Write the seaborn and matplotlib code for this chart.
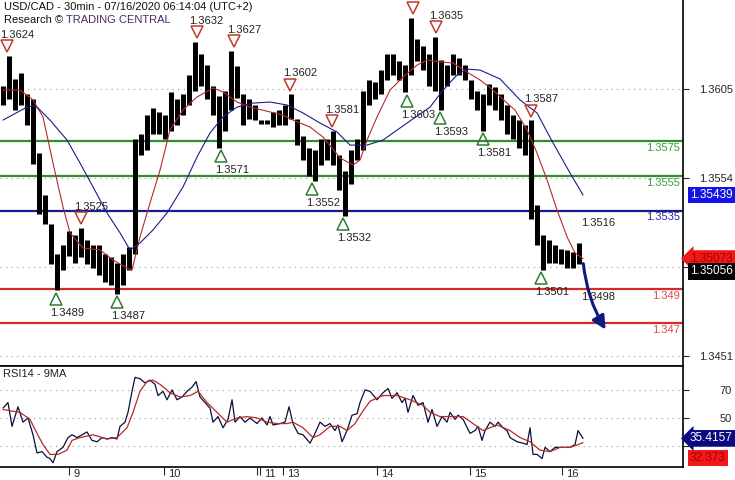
import numpy as np
import matplotlib
matplotlib.use('Agg')
import matplotlib.pyplot as plt
import seaborn as sns
from matplotlib.transforms import offset_copy, ScaledTranslation

# price bars, one every ~1.5 hours (sample index = x position)
highs = [1.3607, 1.3624, 1.3611, 1.3614, 1.3602, 1.3599, 1.3568, 1.3544, 1.3527, 1.3510,
         1.3515, 1.3523, 1.3521, 1.3525, 1.3518, 1.3515, 1.3515, 1.3510, 1.3508, 1.3505,
         1.3510, 1.3514, 1.3576, 1.3579, 1.3590, 1.3594, 1.3592, 1.3590, 1.3603, 1.3599,
         1.3602, 1.3613, 1.3632, 1.3625, 1.3619, 1.3607, 1.3601, 1.3604, 1.3627, 1.3618,
         1.3602, 1.3599, 1.3596, 1.3587, 1.3587, 1.3592, 1.3593, 1.3596, 1.3602, 1.3588,
         1.3578, 1.3571, 1.3570, 1.3576, 1.3576, 1.3581, 1.3567, 1.3558, 1.3570, 1.3576,
         1.3604, 1.3610, 1.3609, 1.3616, 1.3625, 1.3625, 1.3621, 1.3619, 1.3646, 1.3634,
         1.3630, 1.3625, 1.3635, 1.3622, 1.3619, 1.3625, 1.3623, 1.3619, 1.3610, 1.3604,
         1.3602, 1.3608, 1.3606, 1.3602, 1.3596, 1.3590, 1.3587, 1.3584, 1.3587, 1.3538,
         1.3521, 1.3518, 1.3515, 1.3513, 1.3512, 1.3511, 1.3516]
lows = [1.3596, 1.3599, 1.3593, 1.3596, 1.3584, 1.3562, 1.3533, 1.3527, 1.3504, 1.3489,
        1.3501, 1.3509, 1.3505, 1.3508, 1.3504, 1.3502, 1.3498, 1.3494, 1.3492, 1.3487,
        1.3492, 1.3501, 1.3510, 1.3567, 1.3570, 1.3579, 1.3579, 1.3576, 1.3581, 1.3584,
        1.3590, 1.3596, 1.3604, 1.3607, 1.3599, 1.3590, 1.3571, 1.3581, 1.3593, 1.3600,
        1.3584, 1.3588, 1.3587, 1.3585, 1.3585, 1.3583, 1.3584, 1.3584, 1.3588, 1.3573,
        1.3564, 1.3555, 1.3552, 1.3561, 1.3564, 1.3561, 1.3547, 1.3532, 1.3550, 1.3564,
        1.3570, 1.3596, 1.3599, 1.3602, 1.3610, 1.3613, 1.3610, 1.3603, 1.3613, 1.3621,
        1.3616, 1.3607, 1.3604, 1.3593, 1.3607, 1.3613, 1.3613, 1.3610, 1.3599, 1.3593,
        1.3581, 1.3596, 1.3593, 1.3587, 1.3579, 1.3576, 1.3571, 1.3567, 1.3530, 1.3515,
        1.3501, 1.3505, 1.3505, 1.3504, 1.3502, 1.3502, 1.3504]
last_close = 1.35056

# moving averages on price
ma_fast_x = [0, 2.83, 5, 6.67, 8.33, 10, 11.17, 13.33, 16.17, 18.33, 20.67, 21.5, 22.83, 24.5,
             26.17, 27.83, 30, 32.33, 35, 36.67, 39, 41.17, 44.5, 46.67, 48.33, 51.17, 53.33,
             56.17, 58.33, 59.5, 60.67, 62.33, 64.5, 66.67, 69, 70.67, 72.83, 75, 77.33, 79.5,
             81.67, 84, 85.33, 87.33, 89, 90.67, 92.33, 94, 95.33, 96.67]
ma_fast = [1.36044, 1.36044, 1.35987, 1.35889, 1.35624, 1.35370, 1.35221, 1.35134, 1.35123,
           1.35065, 1.35019, 1.35007, 1.35198, 1.35393, 1.35583, 1.35814, 1.35929, 1.36004,
           1.36056, 1.36033, 1.35975, 1.35946, 1.35918, 1.35900, 1.35871, 1.35831, 1.35773,
           1.35653, 1.35612, 1.35641, 1.35756, 1.35889, 1.36044, 1.36119, 1.36188, 1.36217,
           1.36206, 1.36200, 1.36148, 1.36102, 1.36044, 1.35969, 1.35929, 1.35814, 1.35681,
           1.35526, 1.35353, 1.35198, 1.35105, 1.35073]
ma_slow_x = [0, 4, 5, 5.83, 7.83, 10.67, 12.83, 15, 17.33, 19.5, 21.17, 22.83, 25, 27.33, 30,
             32.33, 34.5, 36.67, 39, 41.67, 44.5, 47.33, 50, 52.83, 55.67, 57.83, 60.67, 63.33,
             67.33, 71.17, 73.33, 75.67, 77.33, 79.5, 82.83, 86.17, 89, 91.67, 94.5, 96.67]
ma_slow = [1.35871, 1.35946, 1.35952, 1.35941, 1.35871, 1.35756, 1.35624, 1.35486, 1.35336,
           1.35221, 1.35123, 1.35163, 1.35238, 1.35336, 1.35486, 1.35658, 1.35797, 1.35889,
           1.35946, 1.35969, 1.35975, 1.35958, 1.35912, 1.35854, 1.35802, 1.35727, 1.35727,
           1.35756, 1.35854, 1.35946, 1.36044, 1.36131, 1.36165, 1.36159, 1.36108, 1.35987,
           1.35912, 1.35739, 1.35566, 1.35439]

# RSI14 and its 9MA
rsi_x = [0, 0.83, 1.5, 2, 2.5, 3.33, 4.17, 5, 5.67, 6.5, 7.33, 7.83, 8.33, 9, 10, 10.83, 11.5,
         12.33, 13.17, 14, 14.83, 15.67, 16.5, 17.33, 18.17, 19, 19.5, 20.33, 20.83, 21.5, 22,
         22.83, 23.67, 24.5, 25.33, 25.83, 26.67, 27.33, 28.17, 29, 29.83, 30.67, 31.5, 32.17,
         32.83, 33.67, 34.5, 35, 35.83, 36.67, 37.5, 38.17, 38.67, 39.5, 40.33, 41.17, 42.33,
         43.17, 44, 44.5, 45, 46.17, 47, 47.67, 48.33, 49.17, 50, 51.17, 52, 52.83, 53.67, 54.5,
         55.33, 55.83, 56.5, 57.33, 58.17, 59, 59.5, 60.33, 61.17, 62.33, 63.33, 64.17, 64.83,
         65.67, 66.5, 67, 67.5, 68.33, 69.17, 70, 70.83, 71.5, 72.33, 73.17, 74, 74.5, 75.33,
         75.83, 76.67, 77.83, 78.67, 79.17, 79.83, 80.33, 81.17, 82, 82.5, 83.33, 84, 84.5,
         85.67, 86.67, 87.33, 87.83, 88.33, 89, 89.83, 90.33, 91.17, 92, 92.83, 93.67, 94.5,
         95.33, 95.83, 96.67]
rsi = [57, 61, 44, 51, 58, 47, 50, 38, 25, 26, 22, 21, 18, 26, 29, 36, 38, 36, 38, 40, 34, 33,
       36, 35, 36, 35, 44, 47, 54, 69, 79, 78, 75, 77, 74, 66, 69, 63, 70, 63, 65, 69, 72, 76,
       65, 61, 57, 47, 51, 43, 49, 63, 47, 51, 47, 50, 46, 50, 45, 51, 45, 46, 47, 58, 46, 39,
       38, 32, 39, 47, 44, 46, 41, 45, 33, 41, 52, 53, 61, 70, 69, 63, 68, 71, 64, 68, 61, 64,
       54, 66, 59, 61, 47, 56, 44, 51, 47, 54, 49, 52, 49, 39, 41, 44, 34, 41, 47, 44, 47, 43,
       41, 36, 33, 32, 31, 43, 24, 24, 21, 29, 26, 29, 29, 29, 29, 31, 41, 35.4157]
rsi_ma_x = [0, 2.83, 4.5, 5.67, 6.67, 7.83, 9.17, 10.67, 11.5, 12.83, 15, 17.33, 19, 20.67,
            21.67, 22.83, 24, 25, 26.17, 27.83, 29.5, 31.17, 32.5, 34, 35.67, 37.33, 39, 40.67,
            42.33, 44, 45.67, 47.33, 48.33, 50, 51.67, 52.83, 54.5, 56.17, 57.33, 58.67, 59.83,
            61.17, 63.33, 65.67, 67.83, 70, 71.17, 72.83, 74.5, 76.67, 78.33, 80, 82.33, 84.5,
            86.17, 87.83, 89.5, 91.17, 92.83, 94.5, 95.83, 96.67]
rsi_ma = [56, 54, 49, 39, 31, 24, 24, 27, 34, 36, 38, 35, 36, 43, 54, 69, 76, 77, 74, 68, 65,
          66, 69, 61, 54, 47, 50, 51, 50, 47, 46, 46, 47, 43, 36, 38, 44, 44, 41, 46, 54, 62,
          66, 66, 63, 59, 54, 51, 51, 51, 46, 41, 45, 41, 36, 33, 27, 26, 29, 29, 31, 32.373]

# support / resistance levels
levels = [1.3575, 1.3555, 1.3535, 1.349, 1.347]
level_labels = ['1.3575', '1.3555', '1.3535', '1.349', '1.347']
level_colors = ['#2f8f2f', '#2f8f2f', '#1a1a8c', '#d42a2a', '#d42a2a']
level_text_colors = ['#3d9a3d', '#3d9a3d', '#2a2a9a', '#e04848', '#e04848']

# fractal highs / lows
top_x = [0.67, 13.0, 32.33, 38.5, 47.83, 54.83, 68.33, 72.17, 88.0]
top_y = [1.3624, 1.3525, 1.3632, 1.3627, 1.3602, 1.3581, 1.3646, 1.3635, 1.3587]
top_lab = ['1.3624', '1.3525', '1.3632', '1.3627', '1.3602', '1.3581', '', '1.3635', '1.3587']
bot_x = [8.83, 19.0, 36.33, 51.5, 56.67, 67.33, 72.83, 80.0, 89.67]
bot_y = [1.3489, 1.3487, 1.3571, 1.3552, 1.3532, 1.3603, 1.3593, 1.3581, 1.3501]
bot_lab = ['1.3489', '1.3487', '1.3571', '1.3552', '1.3532', '1.3603', '1.3593', '1.3581', '1.3501']

# forecast arrow and its notes
proj_x = [96.67, 100.67]
proj_y = [1.3506, 1.3465]
note_x = [99.2, 99.2]
note_y = [1.3528, 1.3485]
note_lab = ['1.3516', '1.3498']

day_ticks = [11.0, 26.83, 42.33, 42.83, 46.67, 62.33, 77.83, 93.17]
day_labels = ['9', '10', '', '11', '13', '14', '15', '16']

sns.set_style('white')
plt.rcParams['font.family'] = ['Liberation Sans', 'DejaVu Sans']

fig = plt.figure(figsize=(7.35, 4.8), dpi=100)
ax = fig.add_axes([0, 0.2375, 0.9293, 0.7625])
ax2 = fig.add_axes([0, 0.0271, 0.9293, 0.2104], sharex=ax)

xs = np.arange(len(highs))
ax.vlines(xs, lows, highs, color='black', lw=3.6, zorder=3)

for lv, c in zip(levels, level_colors):
    ax.axhline(lv, color=c, lw=1.6, zorder=2)
ytr = ax.get_yaxis_transform()
for lv, lab, c in zip(levels, level_labels, level_text_colors):
    ax.text(1.0, lv, lab, transform=offset_copy(ytr, fig=fig, x=-2, y=-5, units='points'),
            ha='right', va='center', fontsize=8, color=c)

sns.lineplot(x=ma_fast_x, y=ma_fast, ax=ax, color='#b52a2a', lw=0.8, zorder=4)
sns.lineplot(x=ma_slow_x, y=ma_slow, ax=ax, color='#1c1c8c', lw=0.8, zorder=4)

up = offset_copy(ax.transData, fig=fig, y=7, units='points')
dn = offset_copy(ax.transData, fig=fig, y=-6, units='points')
ax.plot(top_x, top_y, ls='none', marker='v', ms=8, mfc='none', mec='#c0392b', mew=1.1,
        transform=up, zorder=5)
ax.plot(bot_x, bot_y, ls='none', marker='^', ms=8, mfc='none', mec='#2e7d32', mew=1.1,
        transform=dn, zorder=5)
for x, y, lab in zip(top_x, top_y, top_lab):
    ax.text(x, y, lab, transform=offset_copy(ax.transData, fig=fig, x=7, y=15, units='points'),
            ha='center', va='center', fontsize=8, color='#222222')
for x, y, lab in zip(bot_x, bot_y, bot_lab):
    ax.text(x, y, lab, transform=offset_copy(ax.transData, fig=fig, x=8, y=-16, units='points'),
            ha='center', va='center', fontsize=8, color='#222222')
for x, y, lab in zip(note_x, note_y, note_lab):
    ax.text(x, y, lab, ha='center', va='center', fontsize=8, color='#222222')

ax.annotate('', xy=(proj_x[1], proj_y[1]), xytext=(proj_x[0], proj_y[0]),
            arrowprops=dict(arrowstyle='-|>', color='#0d1a80', lw=2.2, mutation_scale=20,
                            connectionstyle='arc3,rad=0.12'), zorder=6)

ax.set_xlim(-0.5, 113.33)
ax.set_ylim(1.34454, 1.36563)
ax.set_yticks([1.3605, 1.35537, 1.35023, 1.3451])
ax.set_yticklabels(['1.3605', '1.3554', '', '1.3451'])
ax.yaxis.tick_right()
ax.tick_params(axis='y', right=True, left=False, length=4, width=0.8, pad=7.5, labelsize=8)
ax.tick_params(axis='x', bottom=False, labelbottom=False)
ax.grid(axis='y', linestyle=(0, (1, 4)), color='#9a9a9a', lw=0.8)
ax.grid(axis='x', visible=False)
for s in ['left', 'top']:
    ax.spines[s].set_visible(False)
for s in ['right', 'bottom']:
    ax.spines[s].set_color('black')
    ax.spines[s].set_linewidth(1.2)

# RSI panel
sns.lineplot(x=rsi_x, y=rsi, ax=ax2, color='#0d0d3d', lw=0.9)
sns.lineplot(x=rsi_ma_x, y=rsi_ma, ax=ax2, color='#b52a2a', lw=0.9)
ax2.set_ylim(15, 87.1)
ax2.set_yticks([70, 50, 30])
ax2.set_yticklabels(['70', '50', ''])
ax2.yaxis.tick_right()
ax2.tick_params(axis='y', right=True, left=False, length=4, width=0.8, pad=22.5, labelsize=8)
ax2.grid(axis='y', linestyle=(0, (1, 4)), color='#9a9a9a', lw=0.8)
ax2.grid(axis='x', visible=False)
ax2.spines['left'].set_visible(False)
for s in ['right', 'bottom', 'top']:
    ax2.spines[s].set_color('black')
    ax2.spines[s].set_linewidth(1.2)
ax2.set_xticks(day_ticks)
ax2.set_xticklabels(day_labels)
ax2.tick_params(axis='x', bottom=True, direction='out', length=6, width=0.8, pad=-4.5,
                labelsize=8)
shift = ScaledTranslation(3 / 72, 0, fig.dpi_scale_trans)
for lbl in ax2.get_xticklabels():
    lbl.set_horizontalalignment('left')
    lbl.set_transform(lbl.get_transform() + shift)
ax2.set_xlabel('')
ax2.set_ylabel('')
ax.set_xlabel('')
ax.set_ylabel('')
ax2.text(0.005, 0.92, 'RSI14 - 9MA', transform=ax2.transAxes, fontsize=8, va='center',
         color='#222222')

# right-hand value badges
def badge(axis, val, txt, fc, tc, style, dy=0):
    tr = offset_copy(axis.get_yaxis_transform(), fig=fig, x=5, y=dy, units='points')
    axis.text(1.0, val, txt, transform=tr, ha='left', va='center', fontsize=8.5, color=tc,
              zorder=10, bbox=dict(boxstyle=style, fc=fc, ec='none'))

badge(ax, ma_slow[-1], '1.35439', '#1414e6', 'white', 'square,pad=0.2')
badge(ax, ma_fast[-1], '1.35073', '#f01818', '#a80000', 'larrow,pad=0.2')
badge(ax, last_close, '1.35056', 'black', 'white', 'square,pad=0.2', dy=-7)
badge(ax2, rsi[-1], '35.4157', '#0a0a80', 'white', 'larrow,pad=0.2')
badge(ax2, rsi_ma[-1], '32.373', '#f01818', '#a80000', 'square,pad=0.2', dy=-11)

t1 = fig.text(0.005, 1 - 7 / 480, 'USD/CAD - 30min - 07/16/2020 06:14:04 (UTC+2)',
              fontsize=8, va='center', color='#111111')
t2 = fig.text(0.005, 1 - 20 / 480, 'Research \u00a9 ', fontsize=8, va='center',
              color='#111111')
fig.canvas.draw()
ax.annotate('TRADING CENTRAL', xy=(1, 0.5), xycoords=t2, va='center', ha='left',
            fontsize=8, color='#4a2a6a', annotation_clip=False)

fig.savefig('out.png', dpi=100)
